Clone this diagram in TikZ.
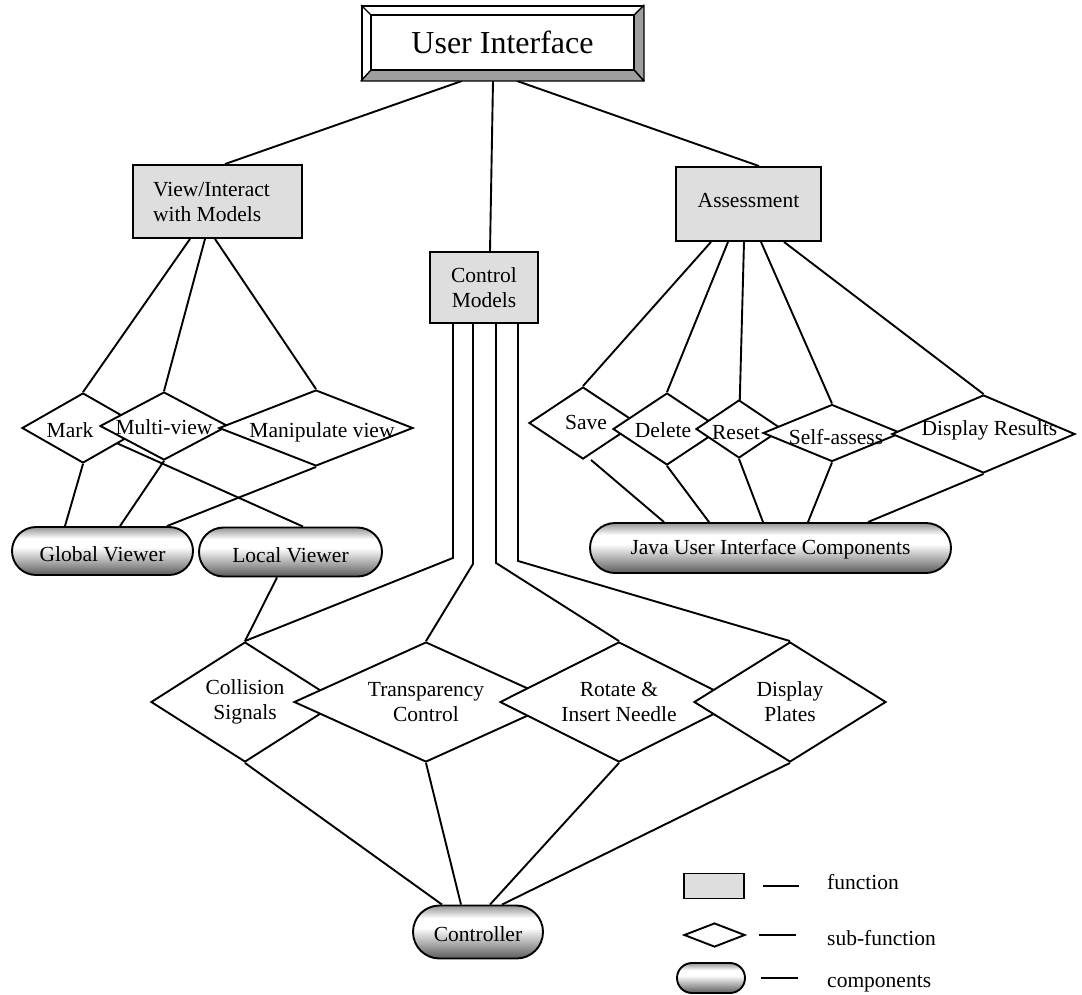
\documentclass[tikz,border=0pt]{standalone}
\usepackage{fontspec}
\setmainfont{Liberation Serif}
\usetikzlibrary{shapes.geometric,shapes.misc}
\pgfdeclarelayer{links}
\pgfsetlayers{links,main}
% metallic look for component capsules: dark top, white band, grey bottom
% (the picture runs with y pointing down, so 0bp is the top edge here)
\pgfdeclareverticalshading{pillshade}{100bp}{%
  color(0bp)=(black!64); color(25bp)=(black!64); color(54bp)=(white);
  color(63bp)=(white); color(75bp)=(black!42); color(100bp)=(black!42)}

\begin{document}
\begin{tikzpicture}[x=1pt,y=-1pt,
  every node/.style={font=\fontsize{21.5}{25}\selectfont},
  ln/.style={line width=1.9pt},
  func/.style={draw, line width=1.9pt, fill=black!13, rectangle, inner sep=0pt},
  dia/.style={draw, line width=1.9pt, fill=white, diamond, inner sep=0pt},
  comp/.style={draw, line width=1.9pt, rounded rectangle, shading=pillshade, inner sep=0pt},
  lab/.style={inner sep=0pt, align=center},
  bevel/.style={fill=black!38, draw=black, line width=1.4pt, line join=round},
]
\path[use as bounding box] (0,0) rectangle (1082,994);

% ---------- top frame ----------
\node[draw, line width=1.9pt, fill=white, minimum width=281pt, minimum height=74pt, inner sep=0pt] (ui) at (502.5,43) {};
\node[minimum width=263pt, minimum height=55pt, inner sep=0pt] (uiin) at (502.5,42.5) {};
\path[bevel] (ui.north east) -- (ui.south east) -- (uiin.south east) -- (uiin.north east) -- cycle;
\path[bevel] (ui.south west) -- (ui.south east) -- (uiin.south east) -- (uiin.south west) -- cycle;
\draw[line width=1.4pt] (ui.north west) -- (uiin.north west);
\draw[line width=1.6pt] (uiin.south west) rectangle (uiin.north east);
\node[inner sep=0pt, font=\fontsize{32}{36}\selectfont] (uitext) at (502.5,42.5) {User Interface};

% ---------- functions ----------
\node[func, minimum width=169pt, minimum height=73pt,
  label={[lab, align=left, xshift=-6pt]center:View/Interact\\with Models}] (view) at (217.5,201.5) {};
\node[func, minimum width=108pt, minimum height=71pt,
  label={[lab]center:Control\\Models}] (ctrl) at (484,287.5) {};
\node[func, minimum width=145pt, minimum height=74pt,
  label={[lab, yshift=3pt]center:Assessment}] (assess) at (748.5,204) {};

% ---------- viewing sub-functions ----------
\node[dia, minimum width=122pt, minimum height=70pt, label={[lab, xshift=-13pt, yshift=-2pt]center:Mark}] (mark) at (83,428) {};
\node[dia, minimum width=128pt, minimum height=68pt, label={[lab, yshift=-1pt]center:Multi-view}] (multi) at (164,426) {};
\node[dia, minimum width=194pt, minimum height=76pt, label={[lab, xshift=6pt, yshift=-4pt]center:Manipulate view}] (manip) at (316,428) {};

\node[comp, minimum width=181pt, minimum height=48pt, label={[lab, yshift=-3pt]center:Global Viewer}] (global) at (102.5,551) {};
\node[comp, minimum width=183pt, minimum height=49pt, label={[lab, yshift=-3pt]center:Local Viewer}] (local) at (290.5,552) {};

% ---------- assessment sub-functions ----------
\node[dia, minimum width=108pt, minimum height=72pt, label={[lab, xshift=3pt, yshift=1pt]center:Save}] (save) at (583,423) {};
\node[dia, minimum width=108pt, minimum height=72pt, label={[lab, xshift=-4pt, yshift=-1pt]center:Delete}] (delete) at (667,429) {};
\node[dia, minimum width=86pt, minimum height=58pt, label={[lab, xshift=-3pt, yshift=-4pt]center:Reset}] (reset) at (739,429) {};
\node[dia, minimum width=138pt, minimum height=57pt, label={[lab, xshift=4pt, yshift=-4pt]center:Self-assess}] (selfa) at (832,433) {};
\node[dia, minimum width=183pt, minimum height=78pt, label={[lab, xshift=6pt, yshift=4pt]center:Display Results}] (dispres) at (983.5,434) {};

\node[comp, minimum width=361pt, minimum height=50pt, label={[lab, yshift=-1pt]center:Java User Interface Components}] (java) at (770.5,548) {};

% ---------- model control sub-functions ----------
\node[dia, minimum width=188pt, minimum height=120pt, label={[lab]center:Collision\\Signals}] (coll) at (245,702) {};
\node[dia, minimum width=264pt, minimum height=120pt, label={[lab]center:Transparency\\Control}] (transp) at (426,702) {};
\node[dia, minimum width=238pt, minimum height=120pt, label={[lab]center:Rotate \&\\Insert Needle}] (rotate) at (619,702) {};
\node[dia, minimum width=192pt, minimum height=120pt, label={[lab]center:Display\\Plates}] (dplates) at (790,702) {};

\node[comp, minimum width=130pt, minimum height=53pt, label={[lab, yshift=-2pt]center:Controller}] (controller) at (478,932) {};

% ---------- legend ----------
\node[func, minimum width=60pt, minimum height=25pt] (lgfunc) at (714,886) {};
\node[dia, minimum width=61pt, minimum height=24pt] (lgsub) at (714.5,935) {};
\node[comp, minimum width=68pt, minimum height=30pt] (lgcomp) at (711,978) {};
\draw[ln] ([xshift=18pt]lgfunc.east) -- ++(36,0);
\draw[ln] ([xshift=13pt]lgsub.east) -- ++(37,0);
\draw[ln] ([xshift=15pt]lgcomp.east) -- ++(37,0);
\node[anchor=base west, inner sep=0pt] (lgfunctxt) at (827,889) {function};
\node[anchor=base west, inner sep=0pt] (lgsubtxt) at (827,945) {sub-function};
\node[anchor=base west, inner sep=0pt] (lgcomptxt) at (827,987) {components};

% ---------- connectors ----------
\begin{pgfonlayer}{links}
\draw[ln] ([xshift=-40.5pt]ui.south) -- ([xshift=7.5pt]view.north);
\draw[ln] ([xshift=-9.5pt]ui.south) -- ([xshift=6pt]ctrl.north);
\draw[ln] ([xshift=14.5pt]ui.south) -- ([xshift=10.5pt]assess.north);

\draw[ln] ([xshift=-27.5pt]view.south) -- (mark.north);
\draw[ln] ([xshift=-12.5pt]view.south) -- (multi.north);
\draw[ln] ([xshift=-2.5pt]view.south) -- (manip.north);

\draw[ln] (mark.center) -- ([xshift=12.5pt]local.north);
\draw[ln] (mark.south) -- ([xshift=-37.5pt]global.north);
\draw[ln] (multi.south) -- ([xshift=17.5pt]global.north);
\draw[ln] (manip.south) -- ([xshift=64.5pt]global.north);
\draw[ln] ([xshift=-13.5pt]local.south) -- (coll.north);

\draw[ln] ([xshift=-31pt]ctrl.south) -- ++(0,234) -- (coll.north);
\draw[ln] ([xshift=-11pt]ctrl.south) -- ++(0,240) -- (transp.north);
\draw[ln] ([xshift=12pt]ctrl.south) -- ++(0,239) -- (rotate.north);
\draw[ln] ([xshift=34pt]ctrl.south) -- ++(0,237) -- (dplates.north);

\draw[ln] ([xshift=-37.5pt]assess.south) -- (save.north);
\draw[ln] ([xshift=-20.5pt]assess.south) -- (delete.north);
\draw[ln] ([xshift=-4.5pt]assess.south) -- (reset.center);
\draw[ln] ([xshift=12.5pt]assess.south) -- (selfa.north);
\draw[ln] ([xshift=35.5pt]assess.south) -- (dispres.north);

\draw[ln] ([xshift=8pt]save.south) -- ([xshift=-106.5pt]java.north);
\draw[ln] (delete.south) -- ([xshift=-61.5pt]java.north);
\draw[ln] (reset.south) -- ([xshift=-7.5pt]java.north);
\draw[ln] (selfa.south) -- ([xshift=37.5pt]java.north);
\draw[ln] (dispres.south) -- ([xshift=97.5pt]java.north);

\draw[ln] (coll.south) -- ([xshift=-36pt]controller.north);
\draw[ln] (transp.south) -- ([xshift=-17pt]controller.north);
\draw[ln] (rotate.south) -- ([xshift=12pt]controller.north);
\draw[ln] (dplates.south) -- ([xshift=24pt]controller.north);
\end{pgfonlayer}
\end{tikzpicture}
\end{document}
